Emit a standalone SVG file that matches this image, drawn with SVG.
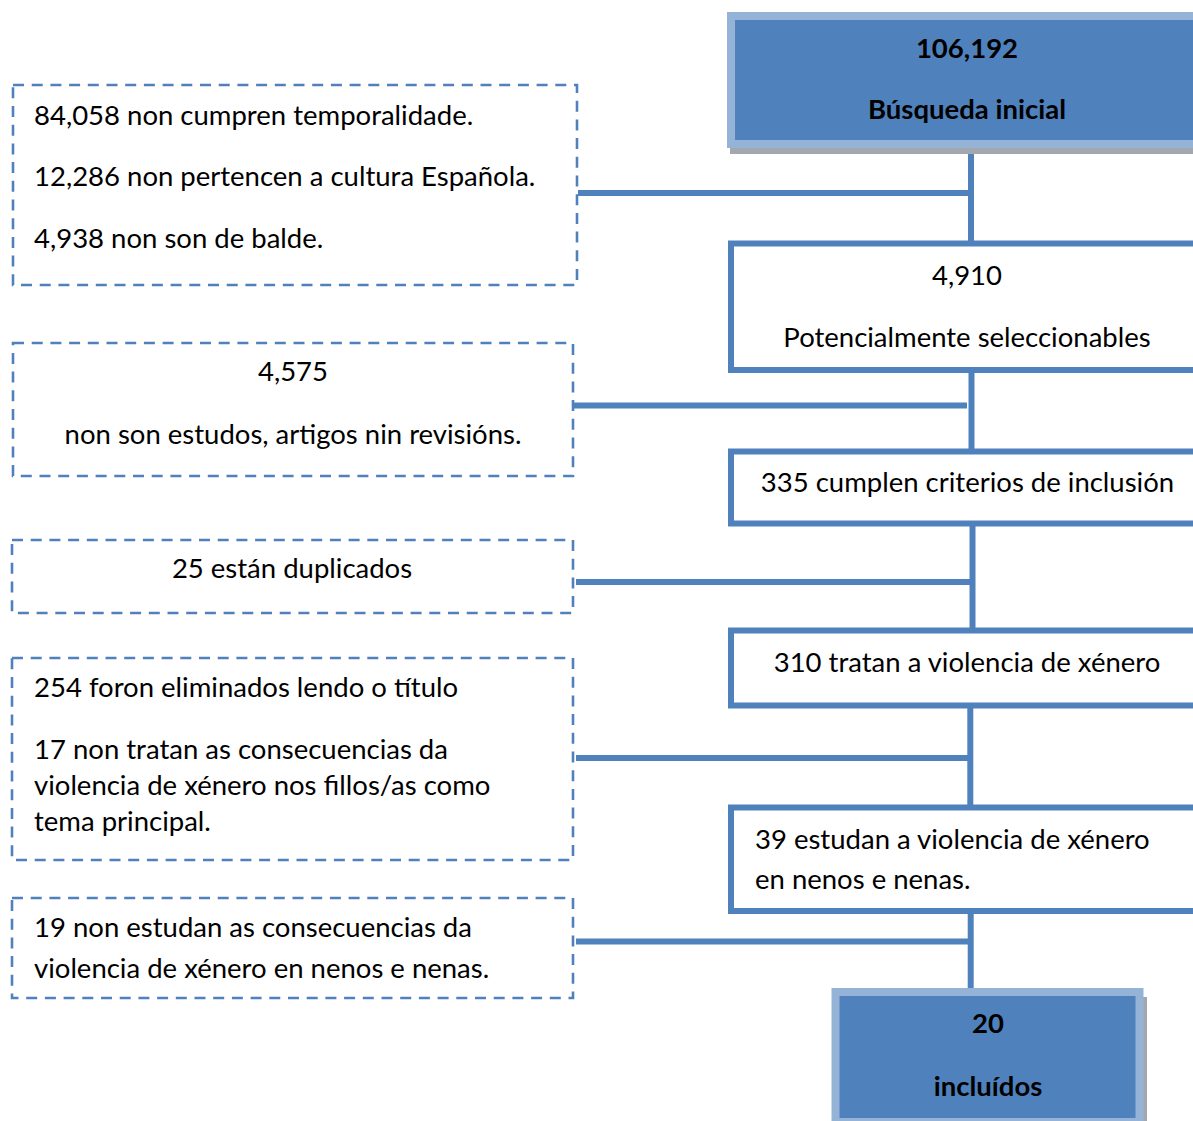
<svg xmlns="http://www.w3.org/2000/svg" width="1193" height="1121" viewBox="0 0 1193 1121">
<style>
text{font-family:Lato,"Open Sans","Liberation Sans",sans-serif;font-size:27.5px;fill:#000}
.b{font-weight:bold}
.c{text-anchor:middle}
.dash{fill:#fff;stroke:#4F81BD;stroke-width:2.6;stroke-dasharray:11 7.7}
.solid{fill:#fff;stroke:#4F81BD;stroke-width:6}
.hl{fill:#4F81BD;stroke:#95B3D7;stroke-width:8}
.sh{fill:#A3A8AF}
.con line{stroke:#4F81BD;stroke-width:6}
</style>
<rect width="1193" height="1121" fill="#fff"/>
<g id="connectors" class="con">
<line x1="971" y1="144" x2="971" y2="242"/>
<line x1="971.5" y1="372" x2="971.5" y2="450"/>
<line x1="972.5" y1="525" x2="972.5" y2="629"/>
<line x1="970.3" y1="708" x2="970.3" y2="806"/>
<line x1="970.7" y1="899" x2="970.7" y2="991"/>
<line x1="578" y1="193" x2="968" y2="193"/>
<line x1="574" y1="405.5" x2="967" y2="405.5"/>
<line x1="576" y1="582" x2="970" y2="582"/>
<line x1="576" y1="758" x2="968" y2="758"/>
<line x1="576" y1="941.5" x2="968" y2="941.5"/>
</g>
<g id="n-busqueda">
<rect class="sh" x="730" y="18" width="470" height="136"/>
<rect class="hl" x="731" y="16" width="470" height="128"/>
<text class="b c" x="967" y="58">106,192</text>
<text class="b c" x="967" y="119">Búsqueda inicial</text>
</g>
<g id="n-excl1">
<rect class="dash" x="13" y="85" width="564" height="200"/>
<text x="34" y="124.5">84,058 non cumpren temporalidade.</text>
<text x="34" y="186">12,286 non pertencen a cultura Española.</text>
<text x="34" y="247.5">4,938 non son de balde.</text>
</g>
<g id="n-potenciales">
<rect class="solid" x="731" y="243.5" width="470" height="126.5"/>
<text class="c" x="967" y="285">4,910</text>
<text class="c" x="967" y="347">Potencialmente seleccionables</text>
</g>
<g id="n-excl2">
<rect class="dash" x="13" y="343" width="560" height="133"/>
<text class="c" x="293" y="381">4,575</text>
<text class="c" x="293" y="443.5">non son estudos, artigos nin revisións.</text>
</g>
<g id="n-criterios">
<rect class="solid" x="731" y="451.5" width="470" height="72"/>
<text class="c" x="967.5" y="492">335 cumplen criterios de inclusión</text>
</g>
<g id="n-excl3">
<rect class="dash" x="12" y="540" width="561" height="73"/>
<text class="c" x="292" y="577.5">25 están duplicados</text>
</g>
<g id="n-violencia">
<rect class="solid" x="731" y="630.5" width="470" height="75"/>
<text class="c" x="967" y="672">310 tratan a violencia de xénero</text>
</g>
<g id="n-excl4">
<rect class="dash" x="12" y="658" width="561" height="202"/>
<text x="34" y="697">254 foron eliminados lendo o título</text>
<text x="34" y="758.5">17 non tratan as consecuencias da</text>
<text x="34" y="795">violencia de xénero nos fillos/as como</text>
<text x="34" y="831">tema principal.</text>
</g>
<g id="n-nenos">
<rect class="solid" x="731" y="807.5" width="470" height="103.5"/>
<text x="755" y="848.5">39 estudan a violencia de xénero</text>
<text x="755" y="888.5">en nenos e nenas.</text>
</g>
<g id="n-excl5">
<rect class="dash" x="12" y="898" width="561" height="100"/>
<text x="34" y="936.5">19 non estudan as consecuencias da</text>
<text x="34" y="977.5">violencia de xénero en nenos e nenas.</text>
</g>
<g id="n-incluidos">
<rect class="sh" x="839" y="997" width="308" height="130"/>
<rect class="hl" x="835.5" y="992" width="304" height="130"/>
<text class="b c" x="988" y="1033">20</text>
<text class="b c" x="988" y="1096">incluídos</text>
</g>
</svg>
